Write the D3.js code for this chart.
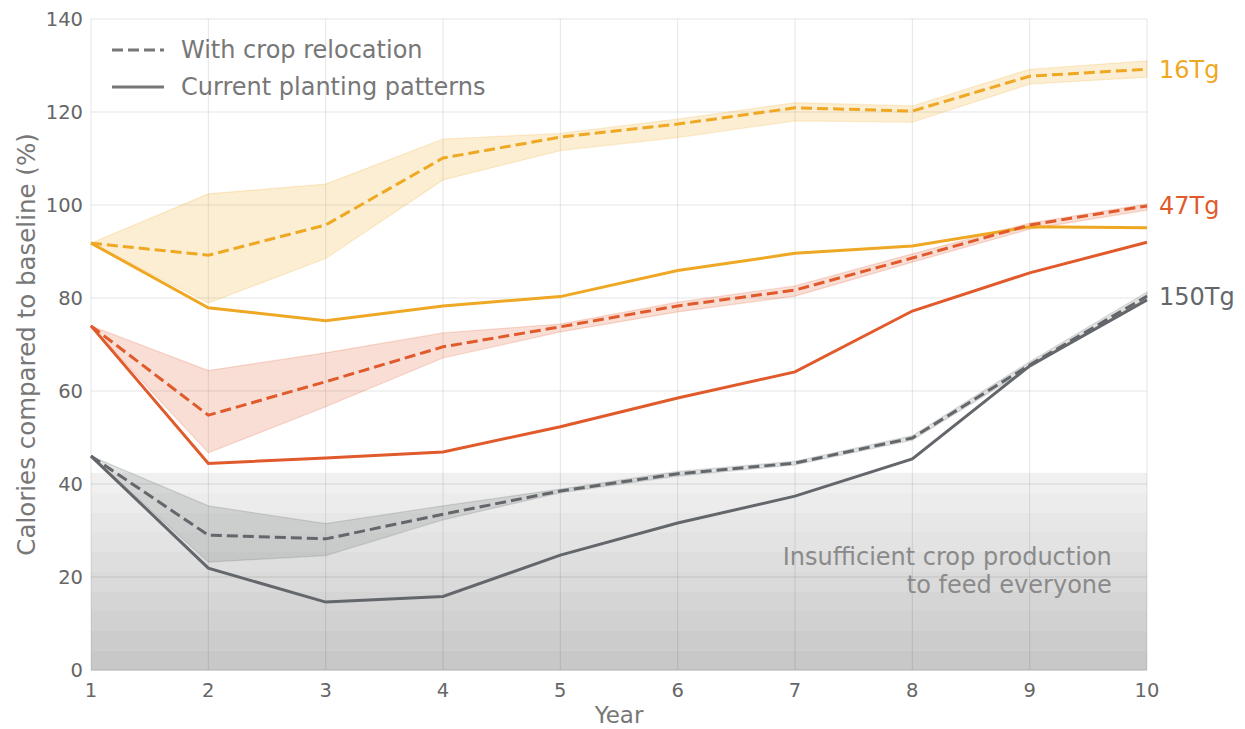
<!DOCTYPE html>
<html>
<head>
<meta charset="utf-8">
<script src="https://cdn.jsdelivr.net/npm/d3@7"></script>
<style>
  body { margin: 0; background: #fff; }
  svg { font-family: 'DejaVu Sans', sans-serif; }
</style>
</head>
<body>
<svg id="chart" width="1245" height="729"></svg>
<script>
const years = [1, 2, 3, 4, 5, 6, 7, 8, 9, 10];
const yTicks = [0, 20, 40, 60, 80, 100, 120, 140];

// 16 Tg
const relocation16 = [91.8, 89.2, 95.7, 110.1, 114.6, 117.4, 120.9, 120.2, 127.7, 129.2];
const relocation16Low = [91.8, 78.9, 88.5, 105.4, 111.7, 114.5, 118.1, 117.8, 126.0, 127.5];
const relocation16High = [91.8, 102.4, 104.5, 114.2, 115.4, 118.5, 122.0, 121.3, 129.2, 131.0];
const current16 = [91.8, 77.9, 75.1, 78.3, 80.3, 85.9, 89.6, 91.2, 95.3, 95.1];

// 47 Tg
const relocation47 = [74.0, 54.8, 62.0, 69.5, 73.8, 78.3, 81.7, 88.6, 95.7, 99.8];
const relocation47Low = [74.0, 46.7, 56.6, 67.1, 72.7, 77.0, 80.4, 87.7, 94.8, 98.9];
const relocation47High = [74.0, 64.4, 68.2, 72.5, 74.4, 79.1, 82.6, 89.5, 96.1, 100.2];
const current47 = [74.0, 44.4, 45.6, 46.9, 52.3, 58.5, 64.1, 77.2, 85.4, 92.0];

// 150 Tg
const relocation150 = [46.0, 29.0, 28.2, 33.5, 38.5, 42.2, 44.5, 49.9, 65.6, 80.4];
const relocation150Low = [46.0, 23.2, 24.6, 32.3, 38.1, 41.7, 44.1, 49.4, 65.0, 80.0];
const relocation150High = [46.0, 35.3, 31.5, 35.3, 38.9, 42.7, 44.9, 50.4, 66.3, 81.3];
const current150 = [46.0, 21.9, 14.6, 15.8, 24.7, 31.6, 37.4, 45.4, 65.4, 79.6];

const scenarios = [
  { label: '16Tg', color: '#eea823', dashed: relocation16, low: relocation16Low, high: relocation16High, solid: current16 },
  { label: '47Tg', color: '#e05a2b', dashed: relocation47, low: relocation47Low, high: relocation47High, solid: current47 },
  { label: '150Tg', color: '#63676b', dashed: relocation150, low: relocation150Low, high: relocation150High, solid: current150 }
];

const insufficientLevel = 42.4;
const bandCount = 10;

const svg = d3.select('#chart');
const margin = { left: 91, right: 98, top: 19, bottom: 59 };
const width = 1245 - margin.left - margin.right;
const height = 729 - margin.top - margin.bottom;

const x = d3.scaleLinear().domain([1, 10]).range([0, width]);
const y = d3.scaleLinear().domain([0, 140]).range([height, 0]);

const g = svg.append('g').attr('transform', `translate(${margin.left},${margin.top})`);

// shaded "insufficient" zone, stepped gradient
const shade = d3.interpolateRgb('#c8c8c8', '#f0f0f0');
const bandStep = insufficientLevel / bandCount;
g.append('g').selectAll('rect')
  .data(d3.range(bandCount))
  .join('rect')
  .attr('x', 0)
  .attr('width', width)
  .attr('y', i => y((i + 1) * bandStep))
  .attr('height', i => y(i * bandStep) - y((i + 1) * bandStep) + 0.5)
  .attr('fill', i => shade(i / (bandCount - 1)));

// grid
g.append('g').selectAll('line')
  .data(yTicks)
  .join('line')
  .attr('x1', 0).attr('x2', width)
  .attr('y1', d => y(d)).attr('y2', d => y(d))
  .attr('stroke', '#000').attr('stroke-opacity', 0.1).attr('stroke-width', 1);
g.append('g').selectAll('line')
  .data(years)
  .join('line')
  .attr('y1', 0).attr('y2', height)
  .attr('x1', d => x(d)).attr('x2', d => x(d))
  .attr('stroke', '#000').attr('stroke-opacity', 0.1).attr('stroke-width', 1);

g.append('text')
  .attr('x', x(9.7))
  .attr('y', y(22.6))
  .attr('text-anchor', 'end')
  .attr('fill', '#8a8a8a')
  .style('font-size', '24px')
  .selectAll('tspan')
  .data(['Insufficient crop production', 'to feed everyone'])
  .join('tspan')
  .attr('x', x(9.7))
  .attr('dy', (d, i) => i === 0 ? 0 : 28)
  .text(d => d);

const area = d3.area()
  .x((d, i) => x(years[i]))
  .y0(d => y(d[0]))
  .y1(d => y(d[1]));
const line = d3.line()
  .x((d, i) => x(years[i]))
  .y(d => y(d));

scenarios.forEach(s => {
  const band = s.low.map((v, i) => [v, s.high[i]]);
  g.append('path')
    .attr('d', area(band))
    .attr('fill', s.color)
    .attr('fill-opacity', 0.2)
    .attr('stroke', s.color)
    .attr('stroke-opacity', 0.2)
    .attr('stroke-width', 1.2);
});

scenarios.forEach(s => {
  g.append('path')
    .attr('d', line(s.solid))
    .attr('fill', 'none')
    .attr('stroke', s.color)
    .attr('stroke-width', 3);
  g.append('path')
    .attr('d', line(s.dashed))
    .attr('fill', 'none')
    .attr('stroke', s.color)
    .attr('stroke-width', 3)
    .attr('stroke-dasharray', '11,5');
  g.append('text')
    .attr('x', width + 12)
    .attr('y', y(s.dashed[s.dashed.length - 1]))
    .attr('dy', '0.35em')
    .attr('fill', s.color)
    .style('font-size', '24px')
    .text(s.label);
});

// axes tick labels
g.append('g').selectAll('text')
  .data(yTicks)
  .join('text')
  .attr('x', -8)
  .attr('y', d => y(d))
  .attr('dy', '0.35em')
  .attr('text-anchor', 'end')
  .attr('fill', '#666')
  .style('font-size', '19.5px')
  .text(d => d);
g.append('g').selectAll('text')
  .data(years)
  .join('text')
  .attr('x', d => x(d))
  .attr('y', height + 27)
  .attr('text-anchor', 'middle')
  .attr('fill', '#666')
  .style('font-size', '19.5px')
  .text(d => d);

g.append('text')
  .attr('x', width / 2)
  .attr('y', height + 53)
  .attr('text-anchor', 'middle')
  .attr('fill', '#777')
  .style('font-size', '23px')
  .text('Year');
g.append('text')
  .attr('transform', `translate(${-56},${height / 2}) rotate(-90)`)
  .attr('text-anchor', 'middle')
  .attr('fill', '#777')
  .style('font-size', '24.5px')
  .text('Calories compared to baseline (%)');

// legend
const legendItems = [
  { label: 'With crop relocation', dash: '11,5' },
  { label: 'Current planting patterns', dash: null }
];
const legend = g.append('g').attr('transform', 'translate(21,31)');
legendItems.forEach((d, i) => {
  legend.append('line')
    .attr('x1', 0).attr('x2', 52)
    .attr('y1', i * 37).attr('y2', i * 37)
    .attr('stroke', '#777')
    .attr('stroke-width', 3)
    .attr('stroke-dasharray', d.dash);
  legend.append('text')
    .attr('x', 69)
    .attr('y', i * 37)
    .attr('dy', '0.35em')
    .attr('fill', '#777')
    .style('font-size', '24px')
    .text(d.label);
});
</script>
</body>
</html>
